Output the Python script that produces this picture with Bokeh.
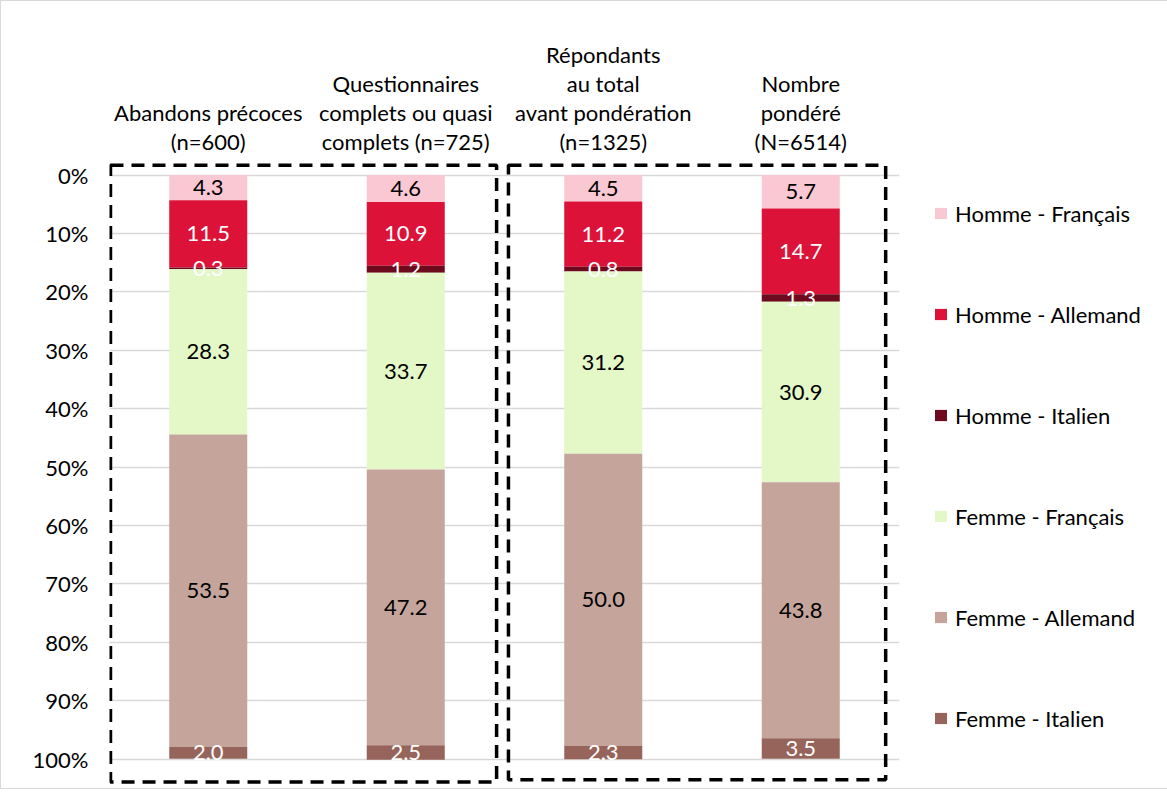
from bokeh.plotting import figure
from bokeh.models import Range1d, FixedTicker, Legend, LegendItem, ColumnDataSource
from bokeh.core.properties import value
from bokeh.embed import file_html
from bokeh.resources import INLINE

# ---- data ----
categories = [
    "Abandons précoces\n(n=600)",
    "Questionnaires\ncomplets ou quasi\ncomplets (n=725)",
    "Répondants\nau total\navant pondération\n(n=1325)",
    "Nombre\npondéré\n(N=6514)",
]
series = ["Homme - Français", "Homme - Allemand", "Homme - Italien",
          "Femme - Français", "Femme - Allemand", "Femme - Italien"]
homme_francais = [4.3, 4.6, 4.5, 5.7]
homme_allemand = [11.5, 10.9, 11.2, 14.7]
homme_italien = [0.3, 1.2, 0.8, 1.3]
femme_francais = [28.3, 33.7, 31.2, 30.9]
femme_allemand = [53.5, 47.2, 50.0, 43.8]
femme_italien = [2.0, 2.5, 2.3, 3.5]
y_ticks = [0, 10, 20, 30, 40, 50, 60, 70, 80, 90, 100]
y_tick_labels = ["0%", "10%", "20%", "30%", "40%", "50%", "60%", "70%", "80%", "90%", "100%"]

# ---- styles ----
colors = ["#F9C8D2", "#DC1238", "#6E0A1E", "#E3F7C7", "#C5A59B", "#96645A"]
label_colors = ["#000000", "#FFFFFF", "#FFFFFF", "#000000", "#000000", "#FFFFFF"]
FONT = "Lato"
FS = "22px"

values = [homme_francais, homme_allemand, homme_italien,
          femme_francais, femme_allemand, femme_italien]
xs = [i + 0.5 for i in range(len(categories))]

data = {"x": xs}
for s, v in zip(series, values):
    data[s] = v
source = ColumnDataSource(data)

p = figure(width=1152, height=786, output_backend="svg", toolbar_location=None,
           x_range=Range1d(0, 4), y_range=Range1d(104.5, -2.5),
           x_axis_location="above",
           min_border_left=108, min_border_right=252, min_border_top=159, min_border_bottom=3)
p.frame_width = 790
p.frame_height = 625
p.outline_line_color = None
p.styles = {"border": "1px solid #d9d9d9"}

renderers = p.vbar_stack(series, x="x", width=0.395, color=colors, line_color=None, source=source)

# data labels
cum = [0.0] * len(categories)
for vals, lc in zip(values, label_colors):
    centers = []
    for i, v in enumerate(vals):
        centers.append(cum[i] + v / 2)
        cum[i] += v
    p.text(x=xs, y=centers, text=[f"{v:.1f}" for v in vals], text_align="center",
           text_baseline="middle", text_color=lc, text_font=value(FONT), text_font_size=FS)

# group boxes
box_left = [0.005, 2.02]
box_right = [1.96, 3.93]
box_top = [-1.7, -1.7]
box_bottom = [103.9, 103.5]
p.quad(left=box_left, right=box_right, top=box_top, bottom=box_bottom,
       fill_alpha=0, line_color="black", line_width=3.5, line_dash="13 8")

# axes
p.yaxis.ticker = FixedTicker(ticks=y_ticks)
p.yaxis.major_label_overrides = {t: l for t, l in zip(y_ticks, y_tick_labels)}
p.yaxis.axis_line_color = None
p.yaxis.major_tick_line_color = None
p.yaxis.minor_tick_line_color = None
p.yaxis.major_label_standoff = 15
p.yaxis.major_label_text_font = FONT
p.yaxis.major_label_text_font_size = FS
p.yaxis.major_label_text_color = "#000000"

p.xaxis.ticker = FixedTicker(ticks=xs)
p.xaxis.major_label_overrides = {x: c for x, c in zip(xs, categories)}
p.xaxis.axis_line_color = None
p.xaxis.major_tick_line_color = None
p.xaxis.minor_tick_line_color = None
p.xaxis.major_label_standoff = 0
p.xaxis.major_label_text_font = FONT
p.xaxis.major_label_text_font_size = FS
p.xaxis.major_label_text_color = "#000000"
p.xaxis.major_label_text_line_height = 1.07

p.xgrid.grid_line_color = None
p.ygrid.ticker = FixedTicker(ticks=y_ticks)
p.ygrid.grid_line_color = "#D9D9D9"
p.ygrid.grid_line_width = 1.5

legend = Legend(items=[LegendItem(label=s, renderers=[r]) for s, r in zip(series, renderers)],
                location=(34, 53), orientation="vertical",
                glyph_width=15, glyph_height=14, label_standoff=7,
                label_height=28, spacing=73, padding=0, margin=0,
                border_line_color=None, background_fill_alpha=0,
                label_text_font=FONT, label_text_font_size=FS, label_text_color="#000000")
p.add_layout(legend, "right")

open("out.html", "w").write(file_html(p, INLINE))
